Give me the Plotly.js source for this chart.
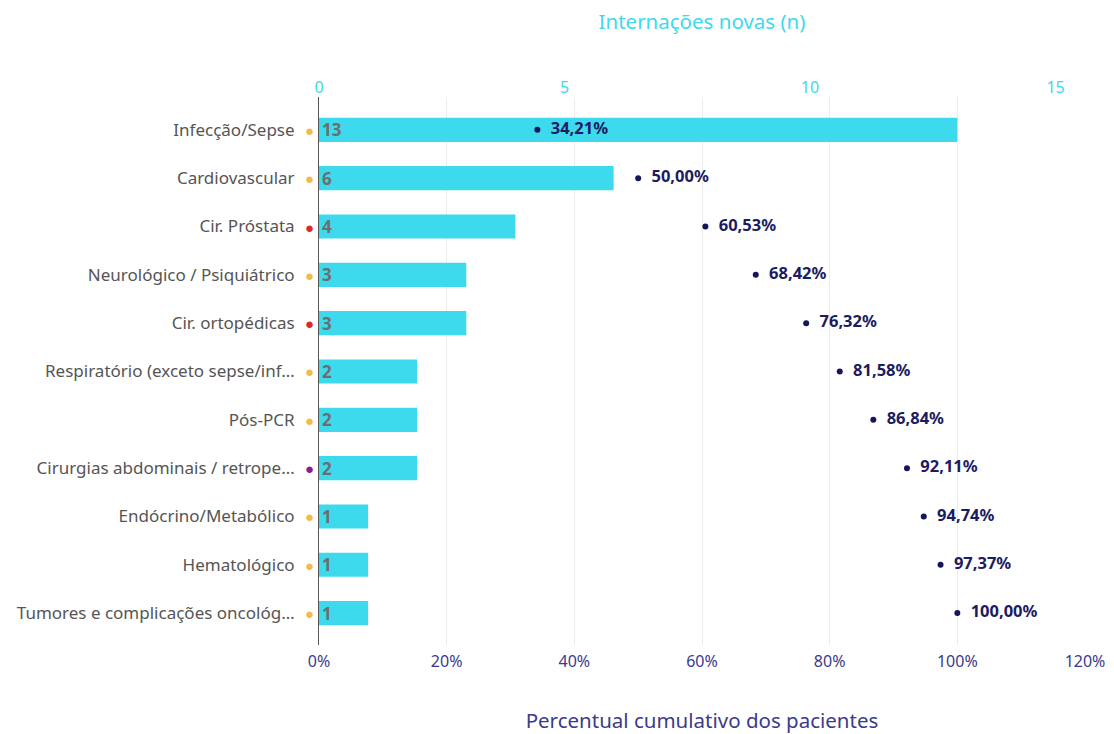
<!DOCTYPE html>
<html><head><meta charset="utf-8">
<script src="https://cdn.plot.ly/plotly-3.0.1.min.js"></script>
<style>html,body{margin:0;padding:0;background:#fff}#chart{width:1114px;height:734px}</style>
</head><body><div id="chart"></div>
<script>
const categories = ["Infecção/Sepse","Cardiovascular","Cir. Próstata","Neurológico / Psiquiátrico","Cir. ortopédicas","Respiratório (exceto sepse/inf…","Pós-PCR","Cirurgias abdominais / retrope…","Endócrino/Metabólico","Hematológico","Tumores e complicações oncológ…"];
const counts = [13,6,4,3,3,2,2,2,1,1,1];
const cumulativePct = [34.21,50.00,60.53,68.42,76.32,81.58,86.84,92.11,94.74,97.37,100.00];
const groupColors = ["#F5B94A","#F5B94A","#E0262B","#F5B94A","#E0262B","#F5B94A","#F5B94A","#8A1A8F","#F5B94A","#F5B94A","#F5B94A"];
const pctTicks = [0,20,40,60,80,100,120];
const countTicks = [0,5,10,15];

const FONT = "Noto Sans, Open Sans, sans-serif";

const bars = {
  type:'bar', orientation:'h', x:counts, y:categories, xaxis:'x', yaxis:'y',
  marker:{color:'#3DD9EC'}, width:0.5,
  text:counts.map(String), textposition:'inside', insidetextanchor:'start', textangle:0,
  constraintext:'none',
  textfont:{family:FONT, size:17, color:'#6E6E6E', weight:'bold'},
  hoverinfo:'x+y', showlegend:false
};
const pts = {
  type:'scatter', mode:'markers+text', x:cumulativePct, y:categories, xaxis:'x2', yaxis:'y',
  marker:{color:'#16165C', size:6},
  text:cumulativePct.map(v=>'\u00a0\u00a0'+v.toFixed(2).replace('.',',')+'%'),
  textposition:'middle right',
  textfont:{family:FONT, size:16.5, color:'#1C1C60', weight:'bold'},
  cliponaxis:false, showlegend:false
};

const annotations = categories.map((c,i)=>({
  xref:'paper', yref:'y', x:0, y:c, xshift:-10, text:'●', showarrow:false,
  font:{size:15, color:groupColors[i]}, xanchor:'center', yanchor:'middle'
}));

const layout = {
  width:1114, height:734,
  margin:{l:319, r:29, t:97, b:89},
  paper_bgcolor:'#fff', plot_bgcolor:'#fff',
  font:{family:FONT, color:'#555'},
  separators:',.',
  bargap:0.5,
  xaxis:{
    side:'top', range:[0,15.6], tickvals:countTicks,
    showgrid:false, zeroline:false, showline:false,
    tickfont:{size:16, color:'#3DD9EC'}, ticks:'',
    title:{text:'Internações novas (n)', font:{size:20.5, color:'#3DD9EC'}, standoff:40}
  },
  xaxis2:{
    overlaying:'x', side:'bottom', range:[0,120], tickvals:pctTicks, ticktext:pctTicks.map(v=>v+'%'),
    showgrid:true, gridcolor:'#EBEBEB', gridwidth:1, zeroline:false, showline:false,
    tickfont:{size:16, color:'#3B3B8C'}, ticks:'', ticklabelstandoff:5,
    title:{text:'Percentual cumulativo dos pacientes', font:{size:20.5, color:'#3B3B8C'}, standoff:44}
  },
  yaxis:{
    type:'category', range:[10.66,-0.68], showgrid:false, zeroline:false,
    showline:true, linecolor:'#555', linewidth:1,
    tickfont:{size:17, color:'#555'}, ticks:'', ticklabelstandoff:20
  },
  annotations:annotations
};

Plotly.newPlot('chart',[bars,pts],layout,{displayModeBar:false});
</script></body></html>
